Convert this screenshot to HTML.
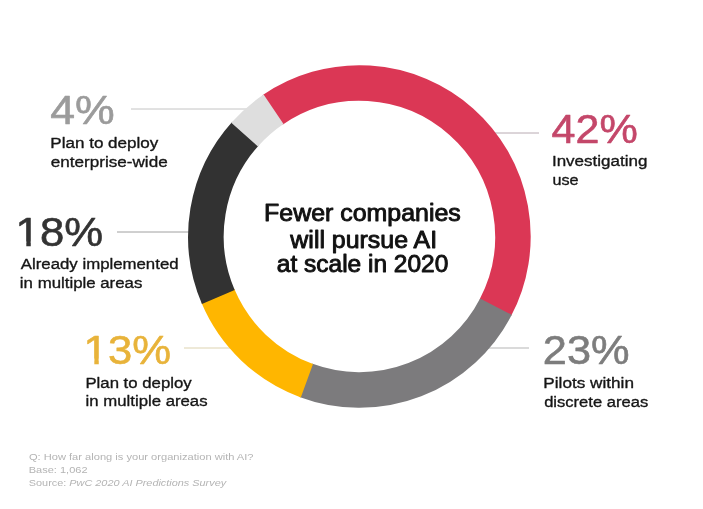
<!DOCTYPE html>
<html>
<head>
<meta charset="utf-8">
<title>Fewer companies will pursue AI at scale in 2020</title>
<style>
html,body{margin:0;padding:0;background:#fff;}
body{width:703px;height:509px;overflow:hidden;}
svg{display:block;font-family:"Liberation Sans",Arial,Helvetica,sans-serif;}
.num{font-size:41px;stroke-width:0.6px;stroke-linejoin:round;}
.lbl{font-size:15.5px;fill:#161616;stroke:#161616;stroke-width:0.35px;stroke-linejoin:round;}
.ctr{font-size:23px;fill:#111;stroke:#111;stroke-width:0.9px;stroke-linejoin:round;}
.ft{font-size:9.8px;fill:#b4b4b4;}
.ln{stroke-width:1;fill:none;}
</style>
</head>
<body>
<svg width="703" height="509" viewBox="0 0 703 509">
<rect width="703" height="509" fill="#fff"/>
<path class="ln" d="M131 109H250" stroke="#c4c4c4"/>
<path class="ln" d="M117 232H192" stroke="#a0a0a0"/>
<path class="ln" d="M184 348H230" stroke="#ddd3b0"/>
<path class="ln" d="M490 133H539" stroke="#b8aab2"/>
<path class="ln" d="M480 348H529" stroke="#b5b5b5"/>
<g fill="none" stroke-width="35.6">
<path d="M272.46 110.00A153.5 153.5 0 0 1 495.31 307.85" stroke="#DB3755"/>
<path d="M495.93 306.66A153.5 153.5 0 0 1 305.64 380.28" stroke="#7C7B7D"/>
<path d="M306.90 380.74A153.5 153.5 0 0 1 217.79 295.74" stroke="#FFB600"/>
<path d="M218.31 296.97A153.5 153.5 0 0 1 245.51 133.59" stroke="#323232"/>
<path d="M244.61 134.59A153.5 153.5 0 0 1 273.56 109.24" stroke="#DEDEDE"/>
</g>
<text id="n4" class="num" x="50.23" y="124.4" textLength="64.50" lengthAdjust="spacingAndGlyphs" fill="#9b9b9b" stroke="#9b9b9b">4%</text>
<text id="l4a" class="lbl" x="50.29" y="148.0" textLength="108.09" lengthAdjust="spacingAndGlyphs">Plan to deploy</text>
<text id="l4b" class="lbl" x="50.85" y="167.1" textLength="116.80" lengthAdjust="spacingAndGlyphs">enterprise-wide</text>
<text id="n18" class="num" x="15.62" y="246.4" textLength="87.44" lengthAdjust="spacingAndGlyphs" fill="#333333" stroke="#333333">18%</text>
<text id="l18a" class="lbl" x="20.81" y="269.0" textLength="157.77" lengthAdjust="spacingAndGlyphs">Already implemented</text>
<text id="l18b" class="lbl" x="19.88" y="287.5" textLength="122.46" lengthAdjust="spacingAndGlyphs">in multiple areas</text>
<text id="n13" class="num" x="83.63" y="363.5" textLength="87.34" lengthAdjust="spacingAndGlyphs" fill="#E8B33A" stroke="#E8B33A">13%</text>
<text id="l13a" class="lbl" x="85.42" y="387.7" textLength="106.27" lengthAdjust="spacingAndGlyphs">Plan to deploy</text>
<text id="l13b" class="lbl" x="85.58" y="405.8" textLength="121.97" lengthAdjust="spacingAndGlyphs">in multiple areas</text>
<text id="n42" class="num" x="551.64" y="142.6" textLength="86.24" lengthAdjust="spacingAndGlyphs" fill="#C4476A" stroke="#C4476A">42%</text>
<text id="l42a" class="lbl" x="551.95" y="166.0" textLength="95.46" lengthAdjust="spacingAndGlyphs">Investigating</text>
<text id="l42b" class="lbl" x="552.51" y="184.9" textLength="26.10" lengthAdjust="spacingAndGlyphs">use</text>
<text id="n23" class="num" x="542.83" y="363.5" textLength="86.74" lengthAdjust="spacingAndGlyphs" fill="#7d7d7d" stroke="#7d7d7d">23%</text>
<text id="l23a" class="lbl" x="543.36" y="388.1" textLength="90.62" lengthAdjust="spacingAndGlyphs">Pilots within</text>
<text id="l23b" class="lbl" x="544.16" y="406.8" textLength="104.01" lengthAdjust="spacingAndGlyphs">discrete areas</text>
<text id="c1" class="ctr" x="264.05" y="221.3" textLength="196.72" lengthAdjust="spacingAndGlyphs">Fewer companies</text>
<text id="c2" class="ctr" x="290.38" y="247.9" textLength="146.70" lengthAdjust="spacingAndGlyphs">will pursue AI</text>
<text id="c3" class="ctr" x="276.86" y="272.0" textLength="171.41" lengthAdjust="spacingAndGlyphs">at scale in 2020</text>
<text id="f1" class="ft" x="28.96" y="459.9" textLength="224.57" lengthAdjust="spacingAndGlyphs">Q: How far along is your organization with AI?</text>
<text id="f2" class="ft" x="28.79" y="473.1" textLength="58.76" lengthAdjust="spacingAndGlyphs">Base: 1,062</text>
<text id="f3" class="ft" x="28.78" y="485.9" textLength="197.41" lengthAdjust="spacingAndGlyphs">Source: <tspan font-style="italic">PwC 2020 AI Predictions Survey</tspan></text>
<g id="mask" fill="#fff">
<rect x="17.45" y="241.44" width="8.86" height="6.46"/>
<rect x="30.77" y="241.44" width="8.52" height="6.46"/>
<rect x="85.46" y="358.54" width="8.85" height="6.46"/>
<rect x="98.76" y="358.54" width="8.51" height="6.46"/>
</g>
</svg>
</body>
</html>
